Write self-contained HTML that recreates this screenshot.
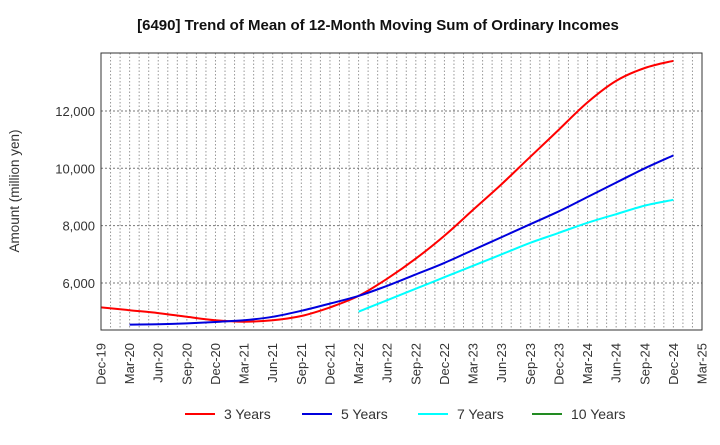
<!DOCTYPE html>
<html><head><meta charset="utf-8"><style>
body{margin:0;background:#fff;font-family:"Liberation Sans",sans-serif;}
</style></head><body>
<svg width="720" height="440" xmlns="http://www.w3.org/2000/svg" font-family="Liberation Sans, sans-serif">
<text x="378" y="30" text-anchor="middle" font-size="15" font-weight="bold" fill="#111">[6490]  Trend of Mean of 12-Month Moving Sum of Ordinary Incomes</text>
<text transform="translate(19,191) rotate(-90)" text-anchor="middle" font-size="13.5" fill="#333">Amount (million yen)</text>
<g id="grid"></g>
<g id="series"></g>
<rect x="101" y="53" width="601" height="277" fill="none" stroke="#333" stroke-width="1"/>
<g id="axes"></g>
<g id="legend"></g>
</svg>
<script>
const xLabels=["Dec-19","Mar-20","Jun-20","Sep-20","Dec-20","Mar-21","Jun-21","Sep-21","Dec-21","Mar-22","Jun-22","Sep-22","Dec-22","Mar-23","Jun-23","Sep-23","Dec-23","Mar-24","Jun-24","Sep-24","Dec-24","Mar-25"];
const yTicks=[6000,8000,10000,12000];
const yTickLabels=["6,000","8,000","10,000","12,000"];
const s3=[5150,5050,4950,4820,4700,4650,4700,4850,5150,5550,6150,6850,7650,8550,9450,10400,11350,12300,13050,13500,13750];
const s5=[null,4550,4560,4590,4640,4700,4820,5030,5280,5550,5900,6300,6700,7150,7600,8050,8500,9000,9500,10000,10450];
const s7=[null,null,null,null,null,null,null,null,null,5000,5400,5800,6200,6600,7000,7400,7750,8100,8400,8700,8900];
const s10=[];
const seriesNames=["3 Years","5 Years","7 Years","10 Years"];
const seriesColors=["#ff0000","#0000dd","#00ffff","#228b22"];
const NS="http://www.w3.org/2000/svg";
const L=101,R=702,T=53,B=330,yMin=4360,yMax=14022;
const X=i=>L+i*(R-L)/(xLabels.length-1);
const Xm=m=>L+m*(R-L)/((xLabels.length-1)*3);
const Y=v=>B-(v-yMin)*(B-T)/(yMax-yMin);
function mk(t,a,p){const e=document.createElementNS(NS,t);for(const k in a)e.setAttribute(k,a[k]);p.appendChild(e);return e;}
const grid=document.getElementById('grid');
for(let m=1;m<(xLabels.length-1)*3;m++){const l=mk('line',{x1:Xm(m),x2:Xm(m),y1:T,y2:B,stroke:'#999','stroke-dasharray':'1.5,2','stroke-width':1},grid);

}
const axes=document.getElementById('axes');
yTicks.forEach((v,i)=>{const l=mk('line',{x1:L,x2:R,y1:Y(v),y2:Y(v),stroke:'#777','stroke-dasharray':'2,2'},grid);


const t=mk('text',{x:L-6,y:Y(v)+5,'text-anchor':'end','font-size':13,fill:'#333'},axes);t.textContent=yTickLabels[i];

});
xLabels.forEach((s,i)=>{const t=mk('text',{transform:`translate(${X(i)+4.5},343) rotate(-90)`,'text-anchor':'end','font-size':13,fill:'#333'},axes);t.textContent=s;

});
const ser=document.getElementById('series');
function smooth(p){let d='M'+p[0][0].toFixed(1)+','+p[0][1].toFixed(1);
for(let i=0;i<p.length-1;i++){const p0=p[i-1]||p[i],p1=p[i],p2=p[i+1],p3=p[i+2]||p2;
const c1=[p1[0]+(p2[0]-p0[0])/6,p1[1]+(p2[1]-p0[1])/6],c2=[p2[0]-(p3[0]-p1[0])/6,p2[1]-(p3[1]-p1[1])/6];
d+=` C${c1[0].toFixed(1)},${c1[1].toFixed(1)} ${c2[0].toFixed(1)},${c2[1].toFixed(1)} ${p2[0].toFixed(1)},${p2[1].toFixed(1)}`;}
return d;}
[s3,s5,s7,s10].forEach((d,k)=>{const pts=[];d.forEach((v,i)=>{if(v!=null)pts.push([X(i),Y(v)]);});
if(pts.length<2)return;const p=mk('path',{d:smooth(pts),fill:'none',stroke:seriesColors[k],'stroke-width':2,'stroke-linejoin':'round'},ser);

});
const lg=document.getElementById('legend');const lx=[185,302,418,532];
seriesNames.forEach((n,k)=>{const g=mk('g',{},lg);


mk('line',{x1:lx[k],x2:lx[k]+30,y1:414,y2:414,stroke:seriesColors[k],'stroke-width':2},g);
const t=mk('text',{x:lx[k]+39,y:419,'font-size':14,fill:'#333'},g);t.textContent=n;});
</script>
</body></html>
